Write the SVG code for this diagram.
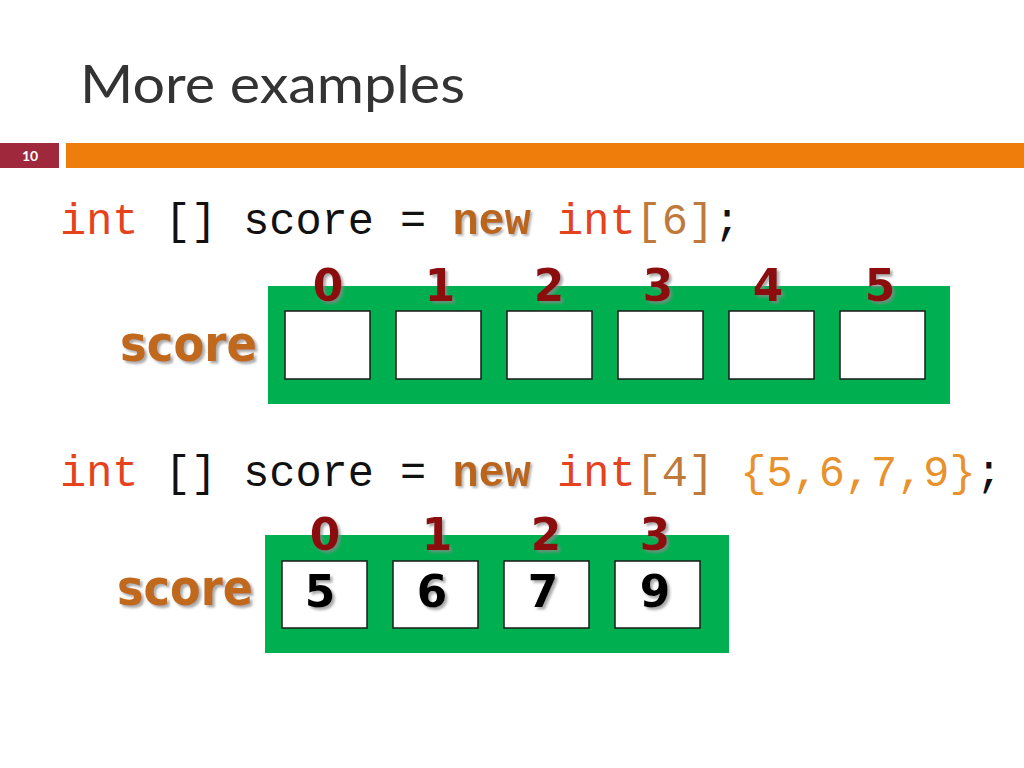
<svg xmlns="http://www.w3.org/2000/svg" width="1024" height="768" viewBox="0 0 1024 768">
<defs>
<filter id="sh" x="-20%" y="-20%" width="150%" height="150%">
<feDropShadow dx="2.5" dy="2.5" stdDeviation="1" flood-color="#888" flood-opacity="0.7"/>
</filter>
<filter id="sh2" x="-20%" y="-20%" width="150%" height="150%">
<feDropShadow dx="2" dy="2" stdDeviation="1" flood-color="#999" flood-opacity="0.7"/>
</filter>
</defs>
<style>
.title{font-family:"Lato","Open Sans","Liberation Sans",sans-serif;font-size:52px;fill:#333333}
.code{font-family:"Liberation Mono","DejaVu Sans Mono",monospace;font-size:43.6px;fill:#111}
.kw{fill:#e5421e}
.nw{fill:#b9651a;font-weight:bold;filter:url(#sh2)}
.br{fill:#bd7a3c}
.lit{fill:#e8922e}
.idx{font-family:"DejaVu Sans",sans-serif;font-weight:bold;font-size:44px;fill:#8b0d0d;text-anchor:middle;filter:url(#sh)}
.val{font-family:"DejaVu Sans",sans-serif;font-weight:bold;font-size:44px;fill:#000;text-anchor:middle;filter:url(#sh)}
.lbl{font-family:"DejaVu Sans Condensed","DejaVu Sans",sans-serif;font-weight:bold;font-size:50px;fill:#c0671c;filter:url(#sh)}
.arr{fill:#00b050}
.cell{fill:#fff;stroke:#1a1a1a;stroke-width:1.5}
</style>
<rect width="1024" height="768" fill="#fff"/>
<g id="header">
<text class="title" x="80" y="103" textLength="385" lengthAdjust="spacingAndGlyphs">More examples</text>
<rect x="0" y="143" width="59" height="25" fill="#a0283c"/>
<rect x="66" y="143" width="958" height="25" fill="#ef7d0b"/>
<text x="30" y="161" font-family="Lato,'Liberation Sans',sans-serif" font-weight="bold" font-size="14" fill="#fff" text-anchor="middle">10</text>
</g>
<g id="code1">
<text class="code" x="60" y="234"><tspan class="kw">int</tspan> [] score = <tspan class="nw">new</tspan> <tspan class="kw">int</tspan><tspan class="br">[6]</tspan>;</text>
</g>
<g id="array1">
<rect class="arr" x="268" y="286" width="682" height="118"/>
<rect class="cell" x="285" y="311" width="85" height="68"/>
<rect class="cell" x="396" y="311" width="85" height="68"/>
<rect class="cell" x="507" y="311" width="85" height="68"/>
<rect class="cell" x="618" y="311" width="85" height="68"/>
<rect class="cell" x="729" y="311" width="85" height="68"/>
<rect class="cell" x="840" y="311" width="85" height="68"/>
<text class="idx" x="328" y="301">0</text>
<text class="idx" x="440" y="301">1</text>
<text class="idx" x="549" y="301">2</text>
<text class="idx" x="658" y="301">3</text>
<text class="idx" x="768" y="301">4</text>
<text class="idx" x="880" y="301">5</text>
<text class="lbl" x="120" y="361" textLength="137" lengthAdjust="spacingAndGlyphs">score</text>
</g>
<g id="code2">
<text class="code" x="60" y="486"><tspan class="kw">int</tspan> [] score = <tspan class="nw">new</tspan> <tspan class="kw">int</tspan><tspan class="br">[4]</tspan> <tspan class="lit">{5,6,7,9}</tspan>;</text>
</g>
<g id="array2">
<rect class="arr" x="265" y="535" width="464" height="118"/>
<rect class="cell" x="282" y="561" width="85" height="67"/>
<rect class="cell" x="393" y="561" width="85" height="67"/>
<rect class="cell" x="504" y="561" width="85" height="67"/>
<rect class="cell" x="615" y="561" width="85" height="67"/>
<text class="idx" x="325" y="550">0</text>
<text class="idx" x="437" y="550">1</text>
<text class="idx" x="546" y="550">2</text>
<text class="idx" x="655" y="550">3</text>
<text class="val" x="320" y="607">5</text>
<text class="val" x="432" y="607">6</text>
<text class="val" x="543" y="607">7</text>
<text class="val" x="655" y="607">9</text>
<text class="lbl" x="117" y="605" textLength="136" lengthAdjust="spacingAndGlyphs">score</text>
</g>
</svg>
